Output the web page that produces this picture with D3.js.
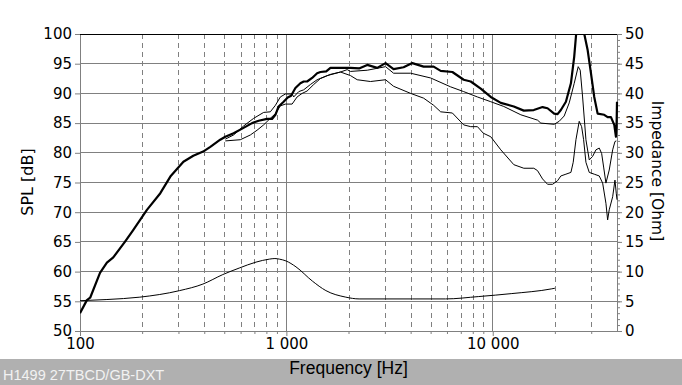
<!DOCTYPE html>
<html><head><meta charset="utf-8">
<script src="https://cdn.jsdelivr.net/npm/d3@7"></script>
<style>body{margin:0;background:#fff} svg{display:block}</style>
</head><body>
<svg id="c" width="682" height="385"></svg>
<script>
// ---- data (frequency Hz, value) ----
const splOnAxis = [[100,53.0],[108,55.2],[112,55.6],[125,59.8],[135,61.5],[145,62.4],[165,65.0],[181,67.0],[211,70.4],[245,73.2],[274,76.0],[317,78.5],[354,79.5],[395,80.2],[428,81.0],[478,82.2],[506,82.7],[555,83.3],[620,84.2],[682,85.0],[734,85.4],[806,85.7],[852,85.7],[885,86.4],[917,87.8],[970,88.6],[1015,89.3],[1054,89.6],[1106,90.9],[1169,91.7],[1213,92.0],[1260,92.0],[1333,92.6],[1409,93.4],[1462,93.6],[1560,93.7],[1635,94.3],[1800,94.3],[2045,94.3],[2250,94.2],[2465,94.8],[2756,94.3],[3024,95.1],[3307,94.1],[3698,94.4],[4076,95.1],[4624,94.5],[5170,94.5],[5593,93.8],[6374,93.6],[7232,92.3],[7822,92.0],[8745,90.8],[9780,89.4],[10940,88.4],[12650,87.8],[14140,87.1],[15810,87.2],[17430,87.7],[18430,87.5],[19840,86.6],[20610,86.5],[21380,87.2],[22620,88.6],[23920,91.7],[24820,96.2],[25400,100.3],[26500,104.0],[27650,100.3],[28830,97.3],[29910,93.4],[31030,89.4],[32230,86.6],[34690,86.4],[36030,86.0],[37390,86.0],[38800,84.7],[39540,82.7],[39800,84.4],[40000,88.6]];
const splOffA = [[506,82.3],[555,83.0],[620,84.5],[694,85.8],[776,86.8],[836,86.9],[885,88.0],[935,89.4],[989,89.9],[1066,89.9],[1085,89.4],[1148,90.3],[1213,90.6],[1308,91.5],[1409,92.3],[1577,93.0],[1829,93.6],[1971,94.0],[2045,93.7],[2465,93.9],[3024,94.5],[3307,93.4],[4000,93.4],[5000,92.6],[6253,91.1],[7232,90.3],[8430,89.4],[9780,88.6],[11310,87.8],[13680,86.4],[16480,85.5],[17100,85.0],[19840,84.8],[20980,85.3],[22190,86.2],[23470,88.4],[24820,91.7],[25950,94.5],[26540,93.9],[27250,89.4],[28280,82.2],[29350,78.8],[30480,79.4],[31620,80.5],[32810,80.8],[33700,79.9],[34460,77.6],[35350,74.9],[36680,77.1],[38110,80.5],[39100,81.9],[39700,82.0]];
const splOffB = [[506,82.0],[598,82.2],[669,83.0],[721,83.8],[776,84.7],[836,85.8],[885,86.6],[935,87.9],[989,88.2],[1066,88.2],[1127,89.4],[1192,90.0],[1260,90.4],[1357,91.5],[1462,92.5],[1635,93.2],[1829,93.6],[2045,93.0],[2204,92.3],[2557,92.0],[3024,92.3],[3307,91.2],[4000,90.0],[4624,89.2],[5170,88.0],[5593,86.9],[6374,86.7],[7232,84.7],[7822,84.4],[8430,84.4],[9000,83.3],[9780,82.7],[10940,80.5],[12650,78.0],[14140,77.4],[15810,77.4],[16480,77.0],[17430,75.6],[18430,74.7],[19490,74.7],[20610,75.3],[21380,76.1],[22620,76.4],[23920,76.7],[24540,78.4],[25300,82.2],[26240,85.3],[26960,84.4],[27560,82.2],[28280,78.4],[29350,76.7],[31030,76.4],[32810,76.1],[34080,74.9],[35350,71.5],[36030,68.7],[36680,70.4],[38110,72.6],[39100,75.4],[39670,73.2],[40000,72.1]];
const impedance = [[100,5.1],[135,5.3],[195,5.7],[304,6.8],[394,7.9],[492,9.5],[591,10.6],[713,11.6],[827,12.1],[880,12.2],[925,12.1],[995,11.8],[1113,10.8],[1337,8.4],[1554,6.8],[1941,5.7],[2251,5.4],[4076,5.4],[5900,5.4],[8550,5.8],[12370,6.3],[19330,7.1],[20000,7.2]];
const splTicks = [50,55,60,65,70,75,80,85,90,95,100];
const ohmTicks = [0,5,10,15,20,25,30,35,40,45,50];
const freqMajor = [100,1000,10000];
const freqLabels = ["100","1 000","10 000"];
const titleText = "H1499 27TBCD/GB-DXT";
const xTitle = "Frequency [Hz]";
const yTitle = "SPL [dB]";
const y2Title = "Impedance [Ohm]";

// ---- layout ----
const L=80, R=617, T=34, B=331;
const svg = d3.select("#c");
const x = d3.scaleLog().domain([100,40000]).range([L,R]);
const y = d3.scaleLinear().domain([50,100]).range([B,T]);
const yR = d3.scaleLinear().domain([0,50]).range([B,T]);
const grid = "#808080";

const minorF = [];
freqMajor.forEach(d => { for (let k=2;k<=9;k++){ const f=k*d; if (f<40000) minorF.push(f);} });

// grid
const g = svg.append("g");
g.selectAll(".hg").data(splTicks.filter(v=>v>50 && v<100)).join("line")
  .attr("x1",L).attr("x2",R).attr("y1",d=>y(d)).attr("y2",d=>y(d))
  .attr("stroke",grid).attr("stroke-width",1).attr("shape-rendering","crispEdges");
g.selectAll(".vd").data(minorF).join("line")
  .attr("x1",d=>Math.round(x(d))+0.5).attr("x2",d=>Math.round(x(d))+0.5).attr("y1",T).attr("y2",B)
  .attr("stroke",grid).attr("stroke-width",1).attr("stroke-dasharray","5,4");
g.selectAll(".vs").data(freqMajor.slice(1)).join("line")
  .attr("x1",d=>x(d)).attr("x2",d=>x(d)).attr("y1",T).attr("y2",B)
  .attr("stroke",grid).attr("stroke-width",1).attr("shape-rendering","crispEdges");

// axes
const font = "DejaVu Sans, Verdana, sans-serif";
function styleAxis(sel){
  sel.select(".domain").attr("stroke",grid);
  sel.selectAll(".tick line").attr("stroke",grid);
  sel.selectAll("text").attr("font-family",font).attr("font-size",15).attr("fill","#000");
}
const axL = svg.append("g").attr("transform",`translate(${L},0)`)
  .call(d3.axisLeft(y).tickValues(splTicks).tickSize(5).tickSizeOuter(0).tickPadding(3));
styleAxis(axL);
const axRminor = svg.append("g").attr("transform",`translate(${R},0)`)
  .call(d3.axisRight(yR).tickValues(d3.range(0,51,1)).tickSize(3).tickSizeOuter(0).tickFormat(""));
styleAxis(axRminor);
const axR = svg.append("g").attr("transform",`translate(${R},0)`)
  .call(d3.axisRight(yR).tickValues(ohmTicks).tickSize(5).tickSizeOuter(0).tickPadding(3));
styleAxis(axR);
const axBminor = svg.append("g").attr("transform",`translate(0,${B})`)
  .call(d3.axisBottom(x).tickValues(minorF).tickSize(3).tickSizeOuter(0).tickFormat(""));
styleAxis(axBminor);
const axB = svg.append("g").attr("transform",`translate(0,${B})`)
  .call(d3.axisBottom(x).tickValues(freqMajor).tickSize(5).tickSizeOuter(0).tickPadding(2)
    .tickFormat((d,i)=>freqLabels[i]));
styleAxis(axB);

// top frame line
svg.append("line").attr("x1",L).attr("x2",R).attr("y1",T).attr("y2",T)
  .attr("stroke","#000").attr("stroke-width",1).attr("shape-rendering","crispEdges");

// curves
svg.append("clipPath").attr("id","clip").append("rect")
  .attr("x",L).attr("y",T).attr("width",R-L+2).attr("height",B-T);
const cg = svg.append("g").attr("clip-path","url(#clip)");
const lineSpl = d3.line().x(d=>x(d[0])).y(d=>y(d[1]));
const lineOhm = d3.line().x(d=>x(d[0])).y(d=>yR(d[1])).curve(d3.curveMonotoneX);
cg.append("path").datum(impedance).attr("d",lineOhm).attr("fill","none").attr("stroke","#000").attr("stroke-width",1);
cg.append("path").datum(splOffB).attr("d",lineSpl).attr("fill","none").attr("stroke","#000").attr("stroke-width",1);
cg.append("path").datum(splOffA).attr("d",lineSpl).attr("fill","none").attr("stroke","#000").attr("stroke-width",1);
cg.append("path").datum(splOnAxis).attr("d",lineSpl).attr("fill","none").attr("stroke","#000").attr("stroke-width",2.2).attr("stroke-linejoin","round");

// titles
svg.append("text").attr("transform","translate(33,182) rotate(-90)").attr("text-anchor","middle")
  .attr("font-family",font).attr("font-size",16).text(yTitle);
svg.append("text").attr("transform","translate(652,171) rotate(90)").attr("text-anchor","middle")
  .attr("font-family",font).attr("font-size",15.5).text(y2Title);

// footer
svg.append("rect").attr("x",0).attr("y",359).attr("width",682).attr("height",26).attr("fill","#b0b0b0");
svg.append("text").attr("x",(L+R)/2).attr("y",374).attr("text-anchor","middle")
  .attr("font-family","Liberation Sans, Arial, sans-serif").attr("font-size",17.5).text(xTitle);
svg.append("text").attr("x",3).attr("y",380)
  .attr("font-family","Liberation Sans, Arial, sans-serif").attr("font-size",14.5).attr("fill","#f2f2f2").text(titleText);
</script>
</body></html>
